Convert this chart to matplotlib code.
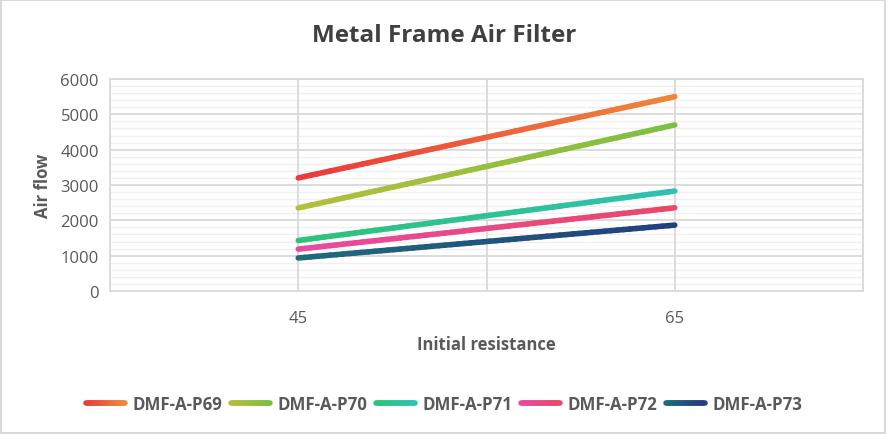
import numpy as np
import matplotlib
matplotlib.use("Agg")
import matplotlib.pyplot as plt
from matplotlib.collections import LineCollection
from matplotlib.colors import LinearSegmentedColormap
from matplotlib.legend_handler import HandlerBase
from matplotlib.patches import Rectangle

plt.rcParams['font.family'] = ['Open Sans', 'DejaVu Sans']

resistance = [45, 65]
series_names = ["DMF-A-P69", "DMF-A-P70", "DMF-A-P71", "DMF-A-P72", "DMF-A-P73"]
p69 = [3200, 5500]
p70 = [2350, 4700]
p71 = [1430, 2830]
p72 = [1185, 2355]
p73 = [935, 1865]
series_values = [p69, p70, p71, p72, p73]
gradients = [("#ea3a3a", "#f0843a"), ("#b5bf3a", "#7dbf42"), ("#2ec279", "#2ec2b0"),
             ("#e84aa0", "#e8486a"), ("#1f6b7a", "#223f80")]

text_col = "#595959"


class GradientHandler(HandlerBase):
    def create_artists(self, legend, orig_handle, xdescent, ydescent, width, height, fontsize, trans):
        n = 20
        xs = np.linspace(-xdescent, width - xdescent, n + 1)
        y = height / 2 - ydescent
        segs = [[(xs[i], y), (xs[i + 1], y)] for i in range(n)]
        lc = LineCollection(segs, cmap=orig_handle.get_cmap(), linewidth=4, capstyle="round",
                            transform=trans)
        lc.set_array(np.linspace(0, 1, n))
        return [lc]


fig = plt.figure(figsize=(8.89, 4.35), dpi=100)
fig.patches.append(Rectangle((0.001, 0.002), 0.995, 0.995, transform=fig.transFigure,
                             fill=False, edgecolor="#d9d9d9", linewidth=1.5))
ax = fig.add_axes([110/889, 1-292/435, 753/889, 212/435])

ax.set_xlim(35, 75)
ax.set_ylim(0, 6000)
ax.set_xticks([35, 45, 55, 65, 75])
ax.set_xticklabels(["", "45", "", "65", ""])
ax.set_yticks(np.arange(0, 6001, 1000))
ax.set_yticks(np.arange(0, 6001, 200), minor=True)
ax.grid(True, which="major", color="#d9d9d9", linewidth=1.3)
ax.grid(True, which="minor", axis="y", color="#f0f0f0", linewidth=1.0)
ax.set_axisbelow(True)
ax.yaxis.set_zorder(0.4)
ax.xaxis.set_zorder(0.6)
for s in ax.spines.values():
    s.set_color("#d9d9d9")
    s.set_linewidth(1.3)
ax.tick_params(axis="both", which="both", length=0, colors=text_col, labelsize=12)
ax.tick_params(axis="x", pad=14)
ax.tick_params(axis="y", pad=8)

handles = []
for name, vals, (c0, c1) in zip(series_names, series_values, gradients):
    cmap = LinearSegmentedColormap.from_list(name, [c0, c1])
    xs = np.linspace(resistance[0], resistance[1], 60)
    ys = np.interp(xs, resistance, vals)
    pts = np.column_stack([xs, ys]).reshape(-1, 1, 2)
    segs = np.concatenate([pts[:-1], pts[1:]], axis=1)
    lc = LineCollection(segs, cmap=cmap, linewidth=4, capstyle="round", joinstyle="round")
    lc.set_array(np.linspace(0, 1, len(segs)))
    ax.add_collection(lc)
    handles.append(lc)

ax.set_xlabel("Initial resistance", fontsize=12, fontweight="bold", color=text_col, labelpad=6)
ax.set_ylabel("Air flow", fontsize=12, fontweight="bold", color=text_col, labelpad=6)
fig.text(0.5, 1-36/435, "Metal Frame Air Filter", ha="center", va="center",
         fontsize=17.5, fontweight="bold", color="#404040")

leg = fig.legend(handles, series_names, loc="center", bbox_to_anchor=(0.5, 1-405/435),
                 ncol=5, frameon=False, handlelength=2.3, columnspacing=0.5, handletextpad=0.45,
                 prop={"size": 12.2, "weight": "bold"},
                 handler_map={LineCollection: GradientHandler()})
for t in leg.get_texts():
    t.set_color(text_col)

fig.savefig("out.png", dpi=100)
